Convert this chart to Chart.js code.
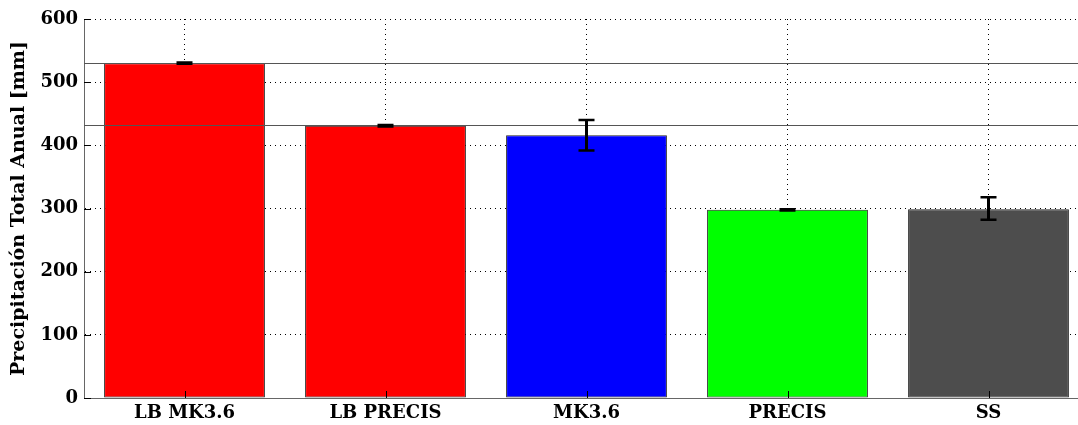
<!DOCTYPE html>
<html>
<head>
<meta charset="utf-8">
<script src="https://cdn.jsdelivr.net/npm/chart.js@4"></script>
<style>
  html, body { margin: 0; padding: 0; background: #fff; overflow: hidden; }
  #wrap { width: 1089px; height: 425px; }
</style>
</head>
<body>
<div id="wrap"><canvas id="ch"></canvas></div>
<script>
const categories = ['LB MK3.6', 'LB PRECIS', 'MK3.6', 'PRECIS', 'SS'];
const values = [530, 431, 416, 298, 299];
const errLow = [529, 430, 392, 297, 282];
const errHigh = [531, 432, 440, 299, 318];
const barColors = ['#ff0000', '#ff0000', '#0000ff', '#00ff00', '#4d4d4d'];
const refLines = [531, 432];
const yTicks = [0, 100, 200, 300, 400, 500, 600];

const serif = "'DejaVu Serif', serif";

// líneas de referencia y barras de error encima de las barras
const overlay = {
  id: 'overlay',
  afterDatasetsDraw(chart) {
    const { ctx, chartArea: a, scales: { x, y } } = chart;
    ctx.save();
    ctx.strokeStyle = '#555';
    ctx.lineWidth = 1;
    refLines.forEach(v => {
      const py = Math.round(y.getPixelForValue(v)) + 0.5;
      ctx.beginPath(); ctx.moveTo(a.left, py); ctx.lineTo(a.right, py); ctx.stroke();
    });
    ctx.strokeStyle = '#000';
    categories.forEach((c, i) => {
      const px = x.getPixelForValue(i);
      const lo = y.getPixelForValue(errLow[i]);
      const hi = y.getPixelForValue(errHigh[i]);
      ctx.lineWidth = 3;
      ctx.beginPath(); ctx.moveTo(px, lo); ctx.lineTo(px, hi); ctx.stroke();
      ctx.lineWidth = 2.5;
      ctx.beginPath();
      ctx.moveTo(px - 8, lo); ctx.lineTo(px + 8, lo);
      ctx.moveTo(px - 8, hi); ctx.lineTo(px + 8, hi);
      ctx.stroke();
    });
    ctx.restore();
  },
  afterDraw(chart) {
    // marcas de graduación hacia dentro
    const { ctx, chartArea: a, scales: { x, y } } = chart;
    ctx.save();
    ctx.strokeStyle = '#000';
    ctx.lineWidth = 1;
    ctx.beginPath();
    yTicks.forEach(v => {
      const py = Math.round(y.getPixelForValue(v)) + 0.5;
      ctx.moveTo(a.left, py); ctx.lineTo(a.left + 7, py);
    });
    categories.forEach((c, i) => {
      const px = Math.round(x.getPixelForValue(i)) + 0.5;
      ctx.moveTo(px, a.bottom); ctx.lineTo(px, a.bottom - 7);
    });
    ctx.stroke();
    ctx.restore();
  }
};

new Chart(document.getElementById('ch'), {
  type: 'bar',
  data: {
    labels: categories,
    datasets: [{
      data: values,
      backgroundColor: barColors,
      borderColor: '#222',
      borderWidth: 1,
      borderSkipped: false,
      barPercentage: 0.8,
      categoryPercentage: 1,
    }],
  },
  options: {
    responsive: true,
    maintainAspectRatio: false,
    animation: false,
    layout: { padding: { top: 19, right: 0, left: 0, bottom: 0 } },
    plugins: { legend: { display: false }, tooltip: { enabled: false } },
    scales: {
      x: {
        z: 1,
        grid: { offset: false, color: '#000', lineWidth: 1, drawTicks: false },
        border: { display: true, color: '#666', width: 1, dash: [1, 4] },
        ticks: { color: '#000', padding: 5, font: { family: serif, weight: 'bold', size: 18 } },
        afterFit: s => { s.height = 27; },
      },
      y: {
        z: 1,
        min: 0, max: 600,
        afterBuildTicks: s => { s.ticks = yTicks.map(v => ({ value: v })); },
        grid: { color: '#000', lineWidth: 1, drawTicks: false },
        border: { display: true, color: '#666', width: 1, dash: [1, 4] },
        ticks: { color: '#000', padding: 6, font: { family: serif, weight: 'bold', size: 18 } },
        title: { display: true, text: 'Precipitación Total Anual [mm]', color: '#000', padding: { top: 8, bottom: 0 },
                 font: { family: serif, weight: 'bold', size: 19 } },
        afterFit: s => { s.width = 84; },
      },
    },
  },
  plugins: [overlay],
});
</script>
</body>
</html>
